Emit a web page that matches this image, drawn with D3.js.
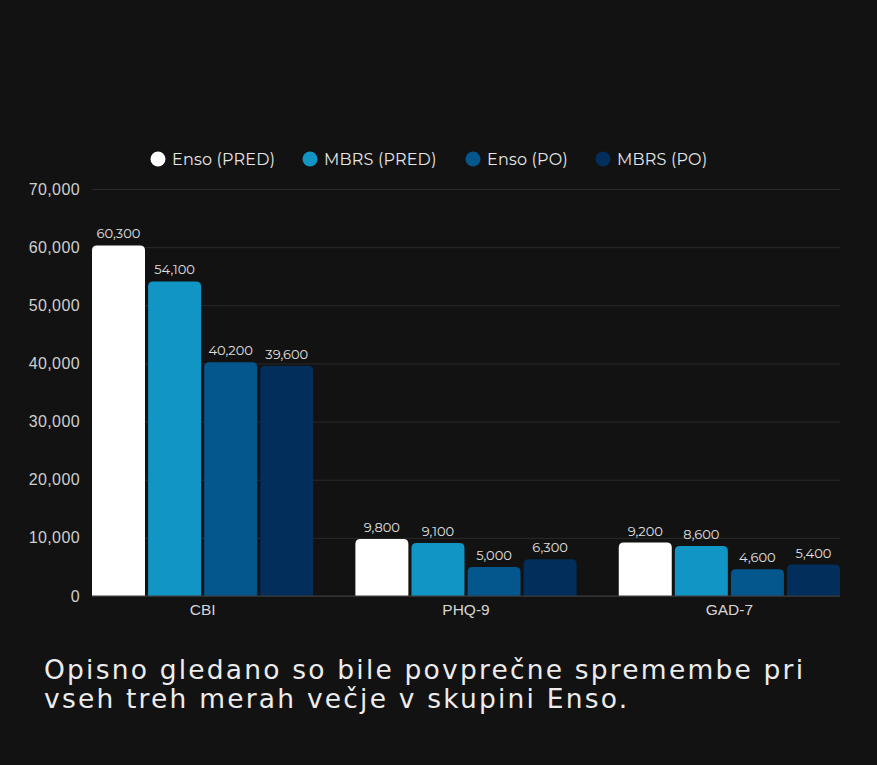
<!DOCTYPE html>
<html>
<head>
<meta charset="utf-8">
<script src="https://cdn.jsdelivr.net/npm/d3@7"></script>
<style>
  html, body { margin: 0; padding: 0; background: #121212; }
  svg { display: block; font-family: Montserrat, "Noto Sans", sans-serif; }
</style>
</head>
<body>
<svg id="chart" width="877" height="765"></svg>
<script>
const categories = ['CBI', 'PHQ-9', 'GAD-7']
const seriesNames = ['Enso (PRED)', 'MBRS (PRED)', 'Enso (PO)', 'MBRS (PO)']
const ensoPred = [60300, 9800, 9200]
const mbrsPred = [54100, 9100, 8600]
const ensoPo = [40200, 5000, 4600]
const mbrsPo = [39600, 6300, 5400]
const yTicks = [0, 10000, 20000, 30000, 40000, 50000, 60000, 70000]
const colors = ['#ffffff', '#1195c4', '#03578d', '#012e5a']
const caption = ['Opisno gledano so bile povprečne spremembe pri', 'vseh treh merah večje v skupini Enso.']

const seriesValues = [ensoPred, mbrsPred, ensoPo, mbrsPo]
const fmt = d3.format(',')

const svg = d3.select('#chart')
const plotLeft = 92, plotRight = 840, plotTop = 189, plotBottom = 596

// scales
const x0 = d3.scaleBand().domain(categories).range([plotLeft, plotRight]).paddingInner(0.16).paddingOuter(0)
const x1 = d3.scaleBand().domain(seriesNames).range([0, x0.bandwidth()]).paddingInner(0.055)
const y = d3.scaleLinear().domain([0, 70000]).range([plotBottom, plotTop])

// grid lines + y labels
const yAxis = svg.append('g')
  .attr('transform', `translate(${plotLeft},0)`)
  .call(d3.axisLeft(y).tickValues(yTicks).tickSize(-(plotRight - plotLeft)).tickFormat(fmt).tickPadding(12))
yAxis.select('.domain').remove()
yAxis.selectAll('.tick line').attr('stroke', '#2a2a2a').attr('stroke-width', 1)
yAxis.selectAll('.tick text').attr('fill', '#cfcfcf').style('font-size', '16px').style('letter-spacing', '0.4px')

// bars
const group = svg.append('g').selectAll('g')
  .data(categories)
  .join('g')
  .attr('transform', d => `translate(${x0(d)},0)`)

const r = 5
function topRounded(x, yTop, w, h) {
  const rr = Math.min(r, h, w / 2)
  return `M${x},${yTop + h}V${yTop + rr}Q${x},${yTop} ${x + rr},${yTop}H${x + w - rr}Q${x + w},${yTop} ${x + w},${yTop + rr}V${yTop + h}Z`
}

group.selectAll('path')
  .data((d, i) => seriesNames.map((s, j) => ({ s, v: seriesValues[j][i], c: colors[j] })))
  .join('path')
  .attr('d', d => topRounded(x1(d.s), y(d.v), x1.bandwidth(), plotBottom - y(d.v)))
  .attr('fill', d => d.c)

group.selectAll('text')
  .data((d, i) => seriesNames.map((s, j) => ({ s, v: seriesValues[j][i] })))
  .join('text')
  .attr('x', d => x1(d.s) + x1.bandwidth() / 2)
  .attr('y', d => y(d.v) - 7)
  .attr('text-anchor', 'middle')
  .attr('fill', '#e0e0e0')
  .style('font-size', '13px')
  .text(d => fmt(d.v))

// x baseline + labels
svg.append('line')
  .attr('x1', plotLeft).attr('x2', plotRight)
  .attr('y1', plotBottom).attr('y2', plotBottom)
  .attr('stroke', '#3a3a3a')

const xAxis = svg.append('g')
  .attr('transform', `translate(0,${plotBottom})`)
  .call(d3.axisBottom(x0).tickSize(0).tickPadding(8))
xAxis.select('.domain').remove()
xAxis.selectAll('.tick text').attr('fill', '#d6d6d6').style('font-size', '15.5px')

// legend
const legendX = [158, 310, 473, 603]
const legend = svg.append('g').selectAll('g')
  .data(seriesNames)
  .join('g')
  .attr('transform', (d, i) => `translate(${legendX[i]},159)`)
legend.append('circle').attr('r', 7.5).attr('fill', (d, i) => colors[i])
legend.append('text')
  .attr('x', 14).attr('dy', '0.35em')
  .attr('fill', '#e6e6e6')
  .style('font-size', '16px')
  .style('letter-spacing', '0.2px')
  .text(d => d)

// caption
svg.append('g').selectAll('text')
  .data(caption)
  .join('text')
  .attr('x', 44)
  .attr('y', (d, i) => 679 + i * 29)
  .attr('fill', '#ececec')
  .style('font-family', '"DejaVu Sans", sans-serif')
  .style('font-size', '26.5px')
  .style('letter-spacing', '2.2px')
  .text(d => d)
</script>
</body>
</html>
